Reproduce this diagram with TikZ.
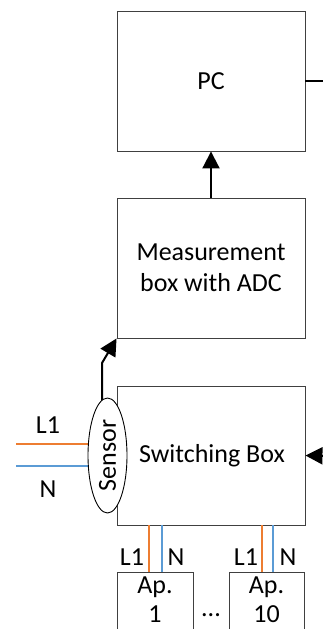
\documentclass[tikz,border=0pt]{standalone}
\usepackage{fontspec}
\setmainfont{Carlito}
\usetikzlibrary{arrows.meta,shapes.geometric}
\definecolor{wireL}{RGB}{237,125,49}
\definecolor{wireN}{RGB}{91,155,213}
\definecolor{boxline}{RGB}{64,64,64}
\tikzset{
  blk/.style={draw=boxline, line width=0.9pt, fill=white, rectangle, inner sep=0pt},
  lbl/.style={font=\fontsize{26}{31}\selectfont, inner sep=0pt, align=center},
  sig/.style={line width=2pt, draw=black, -{Triangle[length=17pt,width=17pt]}},
  plain/.style={line width=2pt, draw=black},
  wl/.style={line width=2pt, draw=wireL},
  wn/.style={line width=2pt, draw=wireN},
}
\begin{document}
\begin{tikzpicture}[x=1pt,y=-1pt]
\useasboundingbox (0,0) rectangle (323,629);
\clip (0,0) rectangle (323,629);
% main boxes
\node[blk, minimum width=188pt, minimum height=140pt] (pc) at (211,81) {};
\node[lbl] (pct) at (211,81) {PC};
\node[blk, minimum width=188pt, minimum height=140pt] (meas) at (211,268) {};
\node[lbl] (meast) at (211,268) {Measurement\\box with ADC};
\node[blk, minimum width=188pt, minimum height=139pt] (sw) at (211,455.5) {};
\node[lbl] (swt) at (212,456) {Switching Box};
% appliance boxes
\node[blk, minimum width=76pt, minimum height=90pt] (ap1) at (155,617) {};
\node[blk, minimum width=75pt, minimum height=90pt] (ap10) at (266.5,617) {};
\node[lbl] (ap1a) at (155,587) {Ap.};
\node[lbl] (ap1b) at (155,614) {1};
\node[lbl] (ap10a) at (266.5,587) {Ap.};
\node[lbl] (ap10b) at (266.5,614) {10};
\node[lbl] (dots) at (211,615) {...};
% arrows
\draw[sig] (meas.north) -- (pc.south);
\coordinate (pcout) at (330,81);
\draw[plain] (pc.east) -- (pcout);
\coordinate (swin) at (335,456);
\draw[sig] (swin) -- (sw.east);
\coordinate (s0) at (102,410);
\coordinate (s1) at (102,363);
\draw[sig] (s0) -- (s1) -- (meas.south west);
% input wires
\coordinate (l1a) at (16,444);
\coordinate (l1b) at (100,444);
\coordinate (na) at (16,466);
\coordinate (nb) at (100,466);
\draw[wl] (l1a) -- (l1b);
\draw[wn] (na) -- (nb);
\node[lbl] (l1t) at (48,425) {L1};
\node[lbl] (nt) at (48,489) {N};
% sensor
\node[draw=black, line width=0.9pt, fill=white, ellipse, minimum width=39pt, minimum height=115pt, inner sep=0pt] (sensor) at (107.5,455.5) {};
\node[lbl, rotate=90] (sensort) at (107.5,455.5) {Sensor};
% appliance wires
\coordinate (a1) at (149,525); \coordinate (b1) at (149,572);
\coordinate (a2) at (162,525); \coordinate (b2) at (162,572);
\coordinate (a3) at (262,525); \coordinate (b3) at (262,572);
\coordinate (a4) at (273,525); \coordinate (b4) at (273,572);
\draw[wl] (a1) -- (b1);
\draw[wn] (a2) -- (b2);
\draw[wl] (a3) -- (b3);
\draw[wn] (a4) -- (b4);
\node[lbl] (w1) at (132,557) {L1};
\node[lbl] (w2) at (176,557) {N};
\node[lbl] (w3) at (246,557) {L1};
\node[lbl] (w4) at (288,557) {N};
\end{tikzpicture}
\end{document}
